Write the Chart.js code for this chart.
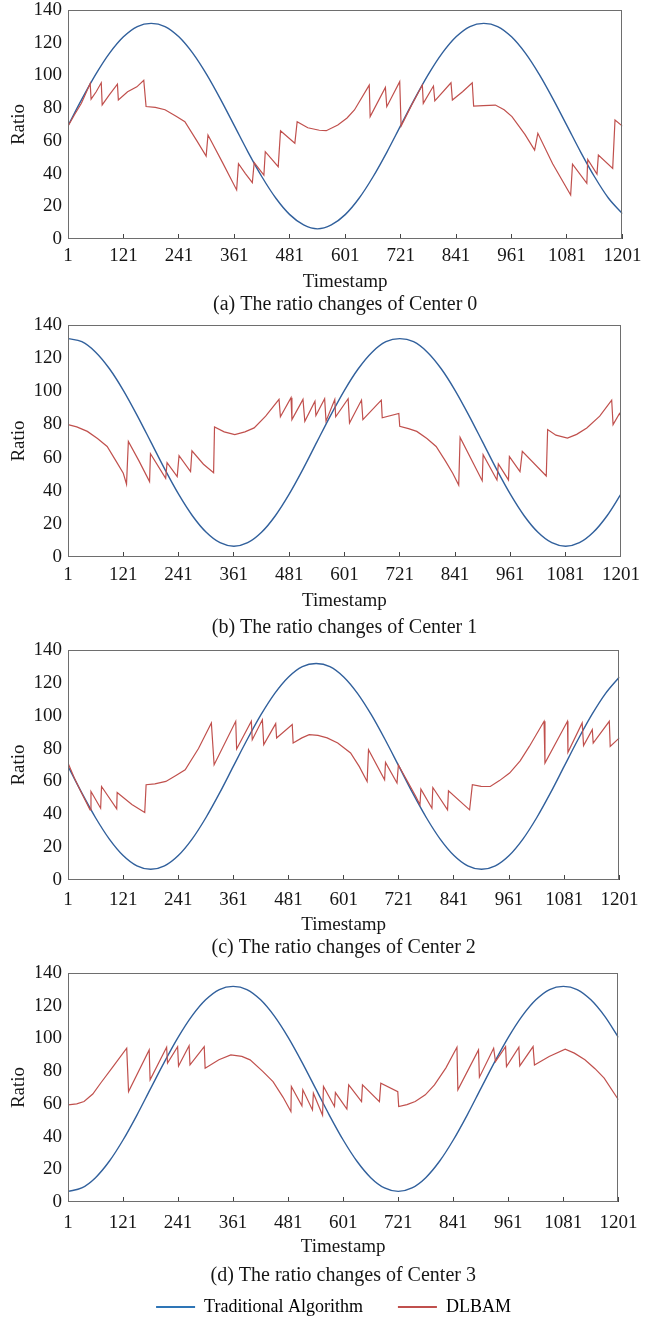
<!DOCTYPE html>
<html>
<head>
<meta charset="utf-8">
<script src="https://cdn.jsdelivr.net/npm/chart.js@4.4.0/dist/chart.umd.min.js"></script>
<style>
html, body { margin: 0; padding: 0; background: #fff; overflow: hidden; }
#wrap { position: relative; width: 652px; height: 1321px; overflow: hidden; }
canvas { position: absolute; left: 0; }
</style>
</head>
<body>
<div id="wrap">
  <canvas id="c0"></canvas>
  <canvas id="c1"></canvas>
  <canvas id="c2"></canvas>
  <canvas id="c3"></canvas>
</div>
<script>
const xTicks = [1, 121, 241, 361, 481, 601, 721, 841, 961, 1081, 1201];
const yTicks = [0, 20, 40, 60, 80, 100, 120, 140];
const seriesNames = ['Traditional Algorithm', 'DLBAM'];
const captions = [
    '(a) The ratio changes of Center 0',
    '(b) The ratio changes of Center 1',
    '(c) The ratio changes of Center 2',
    '(d) The ratio changes of Center 3'
];

// timestamps where the traditional curve was read
const sampleT = [1, 31, 61, 91, 121, 151, 181, 211, 241, 271, 301, 331, 361, 391, 421, 451, 481, 511, 541, 571,
    601, 631, 661, 691, 721, 751, 781, 811, 841, 871, 901, 931, 961, 991, 1021, 1051, 1081, 1111, 1141, 1171, 1201];

const tradA = [69.3, 85.5, 100.6, 113.6, 123.6, 129.9, 131.8, 129.9, 123.6, 113.6, 100.6, 85.5, 69.3, 53.0, 37.9, 24.9,
    14.9, 8.6, 6.2, 8.6, 14.9, 24.9, 37.9, 53.0, 69.3, 85.5, 100.6, 113.6, 123.6, 129.9, 131.8, 129.9, 123.6, 113.6,
    100.6, 85.5, 69.3, 53.0, 37.9, 24.9, 15.5];
const tradB = [131.8, 129.9, 123.6, 113.6, 100.6, 85.5, 69.3, 53.0, 37.9, 24.9, 14.9, 8.6, 6.5, 8.6, 14.9, 24.9, 37.9,
    53.0, 69.3, 85.5, 100.6, 113.6, 123.6, 129.9, 131.8, 129.9, 123.6, 113.6, 100.6, 85.5, 69.3, 53.0, 37.9, 24.9,
    14.9, 8.6, 6.5, 8.6, 14.9, 24.9, 37.9];
const tradC = [69.3, 53.0, 37.9, 24.9, 14.9, 8.6, 6.5, 8.6, 14.9, 24.9, 37.9, 53.0, 69.3, 85.5, 100.6, 113.6, 123.6,
    129.9, 131.8, 129.9, 123.6, 113.6, 100.6, 85.5, 69.3, 53.0, 37.9, 24.9, 14.9, 8.6, 6.5, 8.6, 14.9, 24.9, 37.9,
    53.0, 69.3, 85.5, 100.6, 113.6, 123.6];
const tradD = [6.5, 8.6, 14.9, 24.9, 37.9, 53.0, 69.3, 85.5, 100.6, 113.6, 123.6, 129.9, 131.8, 129.9, 123.6, 113.6,
    100.6, 85.5, 69.3, 53.0, 37.9, 24.9, 14.9, 8.6, 6.5, 8.6, 14.9, 24.9, 37.9, 53.0, 69.3, 85.5, 100.6, 113.6, 123.6,
    129.9, 131.8, 129.9, 123.6, 113.6, 100.6];

// DLBAM readings as [timestamp, ratio]
const dlbamA = [[1, 69], [15, 76], [30, 83], [49, 95], [51, 85.5], [62, 90], [73, 95.5], [75, 82], [90, 88], [108, 94.7],
    [110, 85], [130, 90], [150, 93], [165, 97], [170, 81], [190, 80.5], [211, 79], [235, 75], [254, 71.7], [280, 60],
    [300, 50.7], [304, 63.6], [335, 47], [366, 30], [370, 46], [385, 40], [400, 34.4], [404, 46.7], [425, 39], [428, 53.4],
    [456, 44.2], [461, 66.2], [492, 58.5], [497, 71.7], [520, 68], [545, 66.5], [560, 66.2], [585, 69.7], [605, 74],
    [621, 78.9], [653, 94.1], [655, 74.8], [688, 92.7], [691, 80.9], [719, 96.2], [722, 69], [745, 82], [768, 94.1],
    [770, 82.9], [792, 93.5], [795, 84.5], [830, 95.5], [833, 85], [855, 90], [876, 95.5], [879, 81.3], [900, 81.5],
    [926, 81.9], [945, 79], [962, 74.8], [990, 64], [1011, 54.4], [1018, 64.6], [1050, 46], [1089, 26.9], [1093, 45.8],
    [1124, 34], [1126, 48.7], [1146, 39.7], [1149, 51.3], [1180, 43.2], [1185, 72.7], [1201, 69]];
const dlbamB = [[1, 79.9], [20, 78.5], [43, 75.8], [65, 71.5], [86, 66.7], [105, 58], [121, 50.5], [128, 44], [132, 69.7],
    [155, 58], [178, 45.5], [180, 62.3], [213, 47.5], [216, 57], [238, 48.5], [242, 61.2], [267, 51.5], [270, 64.1],
    [295, 56], [317, 50.9], [319, 78.5], [340, 75.5], [363, 73.8], [385, 75.5], [405, 77.9], [430, 85], [459, 95.1],
    [462, 84.6], [485, 96.1], [487, 82.9], [511, 95.1], [515, 81.9], [537, 94], [539, 85.4], [558, 95.5], [561, 82],
    [580, 95.1], [582, 84.6], [609, 95.5], [612, 80.9], [638, 94.7], [641, 82.9], [681, 94.7], [683, 84], [719, 86.6],
    [721, 78.9], [740, 77.5], [758, 75.8], [780, 71.5], [800, 66.7], [820, 58], [836, 50.5], [849, 43.4], [852, 72.2],
    [900, 46], [902, 61.7], [932, 46.5], [935, 56.2], [957, 46.5], [959, 60.6], [982, 51.5], [987, 63.7], [1039, 48.9],
    [1042, 76.9], [1060, 73.5], [1085, 71.8], [1105, 74], [1127, 77.9], [1155, 85], [1181, 94.7], [1184, 79.9],
    [1198, 86.6], [1201, 85]];
const dlbamC = [[1, 71.2], [15, 62], [29, 53.9], [49, 42.7], [51, 53.9], [72, 43.7], [74, 56.9], [107, 43.3], [108, 53.3],
    [140, 46], [168, 41.1], [171, 58], [190, 58.5], [214, 60], [235, 63.5], [256, 67.1], [285, 80], [313, 95.6],
    [319, 70.2], [366, 96.6], [368, 79.7], [400, 96.6], [402, 85.4], [424, 97.6], [427, 82.4], [453, 95.2], [455, 86.5],
    [489, 94.6], [491, 83.4], [510, 86.5], [526, 88.5], [545, 88], [565, 86.5], [588, 83.4], [616, 77.3], [635, 69],
    [652, 60], [655, 79.3], [690, 61], [692, 71.6], [717, 59], [720, 70], [740, 60], [758, 50.8], [767, 45.8],
    [769, 55.3], [793, 43.7], [795, 56.3], [827, 42.7], [829, 54.3], [875, 42.7], [881, 58], [900, 57], [920, 56.9],
    [940, 60.5], [962, 65.1], [985, 72.5], [1005, 81.3], [1037, 96.6], [1039, 71.2], [1088, 96.6], [1089, 77.7],
    [1120, 95.6], [1123, 81.8], [1142, 91.5], [1144, 83.4], [1179, 96.6], [1181, 81.3], [1201, 86.5]];
const dlbamD = [[1, 59.4], [20, 60], [36, 61.4], [55, 66], [72, 72.6], [100, 83], [129, 94], [133, 67.5], [178, 93],
    [180, 74.7], [216, 94.6], [218, 84.9], [240, 95], [242, 83.2], [265, 95.6], [267, 83.8], [298, 95], [300, 81.8],
    [330, 87], [356, 89.9], [380, 89], [398, 86.9], [425, 80], [448, 73.6], [470, 64], [487, 55.3], [488, 70.6],
    [511, 58.8], [513, 68.6], [534, 56.3], [536, 66.5], [556, 53], [558, 70.6], [582, 58.4], [584, 66.9], [609, 56.8],
    [613, 71.6], [641, 61.4], [643, 71.6], [680, 61.4], [683, 72.6], [720, 67.5], [722, 58.4], [740, 59.5], [758, 61.4],
    [780, 65.5], [800, 71.6], [825, 82], [849, 94.6], [851, 68.6], [896, 93], [898, 76.3], [929, 94], [933, 85.8],
    [955, 95], [957, 82.8], [984, 94.6], [986, 83.2], [1015, 95], [1018, 83.8], [1050, 89], [1085, 93.4], [1105, 91],
    [1128, 86.9], [1150, 81.5], [1170, 75.7], [1201, 62.5]];

const trad = [tradA, tradB, tradC, tradD];
const dlbam = [dlbamA, dlbamB, dlbamC, dlbamD];

const lineBlue = '#31609c';
const lineRed = '#c0504d';
const legendColors = ['#2e75b6', '#c0504d'];
const textColor = '#161616';

Chart.defaults.font.family = "'Liberation Serif', 'Times New Roman', serif";
Chart.defaults.color = textColor;

// box around the plot area
const framePlugin = {
    id: 'frame',
    afterDraw(chart) {
        const { ctx, chartArea } = chart;
        const l = Math.round(chartArea.left) + 0.5;
        const t = Math.round(chartArea.top) + 0.5;
        const r = Math.round(chartArea.right) - 0.5;
        const b = Math.round(chartArea.bottom) - 0.5;
        ctx.save();
        ctx.strokeStyle = '#6e6e6e';
        ctx.lineWidth = 1;
        ctx.strokeRect(l, t, r - l, b - t);
        ctx.restore();
    }
};

// the y labels need ~17.4px above the plot, so every canvas starts 18px above its plot
const panels = [
    { id: 'c0', top: -8, height: 323, padLeft: 0, tickPad: 10.6, axisH: 54, capTop: 2, capBottom: 0 },
    { id: 'c1', top: 307, height: 331, padLeft: 0, tickPad: 12.1, axisH: 55, capTop: 6, capBottom: 0 },
    { id: 'c2', top: 632, height: 326, padLeft: 0, tickPad: 13.6, axisH: 56, capTop: 2, capBottom: 0 },
    { id: 'c3', top: 955, height: 371, padLeft: 36, tickPad: 14.6, axisH: 56, capTop: 8, capBottom: -23, legend: true }
];

function renderPanel(p, i) {
    const canvas = document.getElementById(p.id);
    canvas.width = 652;
    canvas.height = p.height;
    canvas.style.top = p.top + 'px';

    const ratioPad = 19.5 - (p.padLeft + 11.4);

    new Chart(canvas, {
        type: 'line',
        data: {
            datasets: [{
                label: seriesNames[0],
                data: sampleT.map((t, k) => ({ x: t, y: trad[i][k] })),
                borderColor: lineBlue,
                borderWidth: 1.4,
                pointRadius: 0,
                cubicInterpolationMode: 'monotone',
                order: 1
            }, {
                label: seriesNames[1],
                data: dlbam[i].map(([t, v]) => ({ x: t, y: v })),
                borderColor: lineRed,
                borderWidth: 1.2,
                pointRadius: 0,
                tension: 0,
                order: 0
            }]
        },
        options: {
            responsive: false,
            animation: false,
            devicePixelRatio: 1,
            events: [],
            layout: { padding: { top: 18, right: 21, bottom: 0, left: p.padLeft } },
            scales: {
                x: {
                    type: 'linear',
                    min: 1,
                    max: 1201,
                    afterBuildTicks: s => { s.ticks = xTicks.map(v => ({ value: v })); },
                    afterFit: s => { s.height = p.axisH; },
                    ticks: {
                        autoSkip: false,
                        maxRotation: 0,
                        padding: p.tickPad,
                        font: { size: 19 },
                        color: textColor,
                        callback: v => String(v)
                    },
                    grid: { display: true, drawOnChartArea: false, drawTicks: true, tickLength: -5, color: '#444' },
                    border: { display: false },
                    title: { display: true, text: 'Timestamp', font: { size: 19 }, padding: { top: 0, bottom: 0 }, color: textColor }
                },
                y: {
                    min: 0,
                    max: 140,
                    afterBuildTicks: s => { s.ticks = yTicks.map(v => ({ value: v })); },
                    afterFit: s => { s.width = 68 - p.padLeft; },
                    ticks: { padding: 6, font: { size: 19 }, color: textColor, callback: v => String(v) },
                    grid: { display: false, drawTicks: false },
                    border: { display: false },
                    title: { display: true, text: 'Ratio', font: { size: 19 }, padding: { top: ratioPad, bottom: 0 }, color: textColor }
                }
            },
            plugins: {
                title: {
                    display: true,
                    text: captions[i],
                    position: 'bottom',
                    fullSize: false,
                    weight: 500,
                    font: { size: 20, lineHeight: 1, weight: 'normal' },
                    padding: { top: p.capTop, bottom: p.capBottom },
                    color: textColor
                },
                legend: p.legend ? {
                    display: true,
                    position: 'bottom',
                    labels: {
                        boxWidth: 39,
                        boxHeight: 2,
                        padding: 35,
                        font: { size: 18 },
                        color: textColor,
                        generateLabels: () => seriesNames.map((name, k) => ({
                            text: name,
                            fillStyle: legendColors[k],
                            strokeStyle: legendColors[k],
                            lineWidth: 0,
                            hidden: false,
                            datasetIndex: k
                        }))
                    }
                } : { display: false },
                tooltip: { enabled: false }
            }
        },
        plugins: [framePlugin]
    });
}

panels.forEach(renderPanel);
</script>
</body>
</html>
